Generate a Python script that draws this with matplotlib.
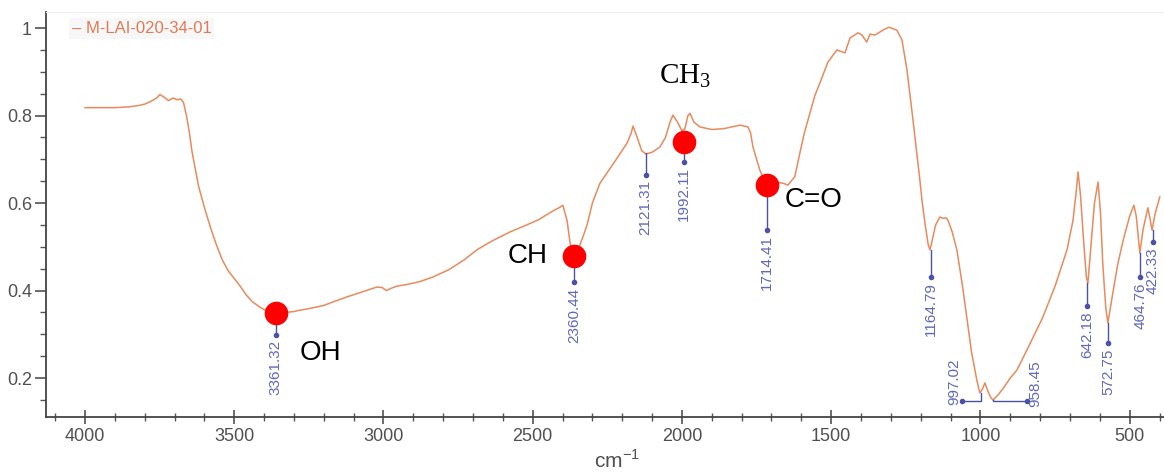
import numpy as np
import matplotlib
matplotlib.use("Agg")
import matplotlib.pyplot as plt
from matplotlib.ticker import MultipleLocator, FuncFormatter

# spectrum: wavenumber (cm-1) and signal
wavenumber = [4000, 3950, 3900, 3850, 3820, 3800, 3780, 3760, 3749, 3735,
              3720, 3705, 3690, 3680, 3670, 3660, 3650, 3642, 3620, 3600,
              3580, 3560, 3540, 3520, 3504, 3480, 3460, 3440, 3414, 3390,
              3361, 3330, 3300, 3280, 3240, 3200, 3169, 3120, 3080, 3040,
              3022, 3005, 2990, 2975, 2955, 2920, 2880, 2834, 2780, 2730,
              2687, 2640, 2576, 2520, 2480, 2432, 2410, 2399, 2385, 2375,
              2365, 2350, 2332, 2318, 2300, 2275, 2250, 2220, 2184, 2170,
              2164, 2150, 2135, 2121, 2100, 2074, 2055, 2040, 2030, 2015,
              2000, 1990, 1980, 1973, 1960, 1940, 1900, 1860, 1806, 1779,
              1770, 1762, 1739, 1719, 1700, 1682, 1660, 1645, 1622, 1605,
              1590, 1571, 1555, 1538, 1511, 1481, 1465, 1454, 1437, 1410,
              1397, 1381, 1370, 1353, 1327, 1307, 1280, 1263, 1246, 1226,
              1203, 1196, 1185, 1175, 1169, 1160, 1150, 1136, 1125, 1115,
              1109, 1095, 1079, 1060, 1046, 1030, 1012, 1002, 993, 985,
              975, 965, 958, 940, 920, 900, 878, 840, 791, 750,
              710, 690, 680, 673, 665, 655, 645, 640, 630, 618,
              606, 598, 590, 580, 573, 560, 540, 520, 500, 486,
              478, 466, 455, 439, 432, 425, 415, 399]
signal = [0.818, 0.818, 0.818, 0.820, 0.823, 0.826, 0.832, 0.840, 0.848, 0.842,
          0.834, 0.840, 0.836, 0.838, 0.830, 0.800, 0.760, 0.720, 0.640, 0.590,
          0.545, 0.505, 0.470, 0.445, 0.431, 0.410, 0.390, 0.375, 0.362, 0.353,
          0.349, 0.350, 0.352, 0.355, 0.360, 0.366, 0.374, 0.386, 0.395, 0.404,
          0.408, 0.407, 0.400, 0.405, 0.410, 0.414, 0.420, 0.431, 0.448, 0.470,
          0.493, 0.512, 0.534, 0.550, 0.562, 0.582, 0.590, 0.595, 0.560, 0.510,
          0.479, 0.490, 0.522, 0.550, 0.600, 0.645, 0.670, 0.700, 0.737, 0.760,
          0.776, 0.750, 0.720, 0.712, 0.716, 0.728, 0.750, 0.785, 0.801, 0.785,
          0.765, 0.770, 0.800, 0.805, 0.785, 0.774, 0.768, 0.770, 0.778, 0.774,
          0.760, 0.728, 0.675, 0.645, 0.644, 0.648, 0.645, 0.641, 0.660, 0.714,
          0.760, 0.806, 0.845, 0.874, 0.922, 0.950, 0.946, 0.943, 0.977, 0.989,
          0.984, 0.968, 0.986, 0.984, 0.995, 1.002, 0.995, 0.973, 0.904, 0.790,
          0.653, 0.607, 0.550, 0.505, 0.493, 0.520, 0.550, 0.568, 0.565, 0.566,
          0.561, 0.535, 0.493, 0.410, 0.340, 0.260, 0.195, 0.166, 0.175, 0.189,
          0.170, 0.155, 0.150, 0.162, 0.180, 0.200, 0.218, 0.270, 0.339, 0.410,
          0.493, 0.560, 0.620, 0.671, 0.620, 0.520, 0.430, 0.417, 0.500, 0.600,
          0.648, 0.580, 0.460, 0.360, 0.326, 0.380, 0.460, 0.520, 0.570, 0.595,
          0.570, 0.486, 0.540, 0.589, 0.565, 0.538, 0.575, 0.614]

# peak picks with a drop line (position, label, where the line starts)
pick_pos = [3361.32, 2360.44, 2121.31, 1992.11, 1714.41, 1164.79, 642.18, 572.75, 464.76, 422.33]
pick_top = [0.349, 0.479, 0.714, 0.740, 0.641, 0.493, 0.417, 0.326, 0.486, 0.538]
pick_drop = [0.050, 0.060, 0.050, 0.046, 0.103, 0.062, 0.053, 0.046, 0.055, 0.028]

# the two picks drawn sideways
side_pos = [997.02, 958.45]
side_top = [0.166, 0.150]
side_end = [1062, 844]

# highlighted groups
group_pos = [3361.32, 2360.44, 1992.11, 1714.41]
group_val = [0.349, 0.479, 0.740, 0.641]

line_col = "#e88a5e"
pick_col = "#4b52a6"
text_col = "#6068b8"
narrow = ["Liberation Sans Narrow", "Liberation Sans", "DejaVu Sans"]

fig = plt.figure(figsize=(11.64, 4.75), dpi=100)
ax = fig.add_axes([46/1164, 58/475, 1118/1164, 405/475])

ax.plot(wavenumber, signal, color=line_col, lw=1.1)

for p, top, d in zip(pick_pos, pick_top, pick_drop):
    ax.plot([p, p], [top, top - d], color=pick_col, lw=1.0)
    ax.plot(p, top - d, "o", color=pick_col, ms=3)
    ax.text(p, top - d - 0.012, f"{p:.2f}", rotation=90, ha="center", va="top",
            fontsize=11, color=text_col, family=["Liberation Sans"])

hline = 0.147
for p, top, end in zip(side_pos, side_top, side_end):
    ax.plot([p, p, end], [top, hline, hline], color=pick_col, lw=1.0)
    ax.plot(end, hline, "o", color=pick_col, ms=3)
ax.text(1088, 0.138, "997.02", rotation=90, ha="center", va="bottom",
        fontsize=11, color=text_col, family=["Liberation Sans"])
ax.text(818, 0.133, "958.45", rotation=90, ha="center", va="bottom",
        fontsize=11, color=text_col, family=["Liberation Sans"])

ax.plot(group_pos, group_val, "o", color="#ff0000", ms=16, zorder=5)
ax.text(3280, 0.257, "OH", fontsize=20, ha="left", va="center", family=["Liberation Sans"])
ax.text(2450, 0.479, "CH", fontsize=20, ha="right", va="center", family=["Liberation Sans"])
ax.text(1655, 0.607, "C=O", fontsize=20, ha="left", va="center", family=["Liberation Sans"])
ax.text(2078, 0.874, r"CH$_\mathregular{3}$", fontsize=21, ha="left", va="baseline",
        family=["Liberation Serif"])

ax.text(0.023, 0.96, "– M-LAI-020-34-01", transform=ax.transAxes, fontsize=12,
        color="#e07a55", ha="left", va="center", family=narrow,
        bbox=dict(facecolor="#f7f7f7", edgecolor="none", pad=2))

ax.set_xlim(4130.6, 385)
ax.set_ylim(0.111, 1.0366)

ax.xaxis.set_major_locator(MultipleLocator(500))
ax.xaxis.set_minor_locator(MultipleLocator(100))
ax.yaxis.set_major_locator(MultipleLocator(0.2))
ax.yaxis.set_minor_locator(MultipleLocator(0.05))
ax.yaxis.set_major_formatter(FuncFormatter(lambda v, pos: f"{v:g}"))

ax.tick_params(axis="x", which="major", direction="inout", length=10, width=1.1,
               color="#444444", labelsize=13, labelcolor="#505050", pad=3)
ax.tick_params(axis="x", which="minor", direction="inout", length=6, width=1.0, color="#555555")
ax.tick_params(axis="y", which="major", direction="out", length=8, width=1.1,
               color="#444444", labelsize=13, labelcolor="#505050", pad=2)
ax.tick_params(axis="y", which="minor", direction="out", length=4, width=1.0, color="#555555")
for lab in ax.get_xticklabels() + ax.get_yticklabels():
    lab.set_family(narrow)

ax.spines["right"].set_visible(False)
ax.spines["top"].set_color("#eeeeee")
ax.spines["left"].set_color("#444444")
ax.spines["bottom"].set_color("#444444")
ax.spines["left"].set_linewidth(1.3)
ax.spines["bottom"].set_linewidth(1.3)

ax.set_xlabel(r"cm$^{\mathregular{-1}}$", fontsize=15, color="#505050", family=narrow, labelpad=0)
ax.xaxis.set_label_coords(0.511, -0.08)

fig.savefig("out.png", dpi=100)
